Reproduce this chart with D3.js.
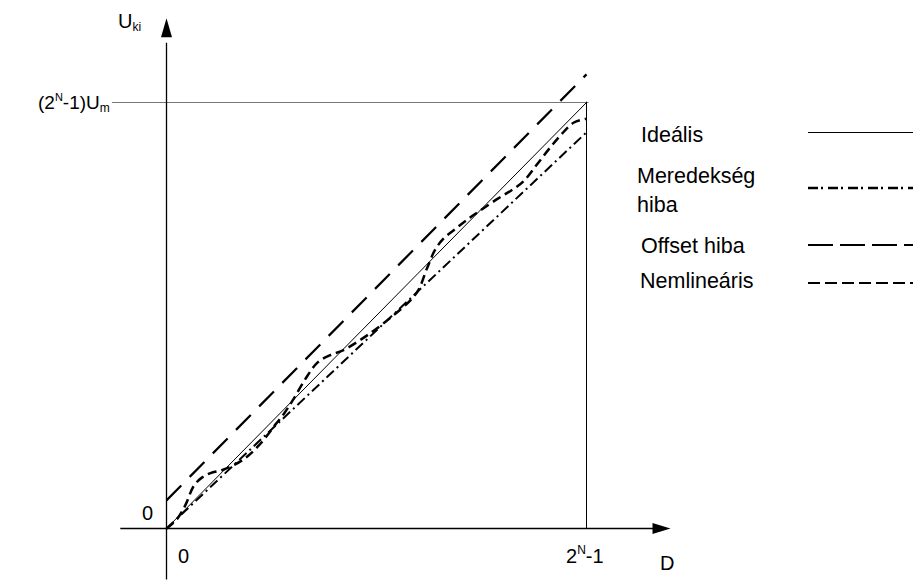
<!DOCTYPE html>
<html>
<head>
<meta charset="utf-8">
<script src="https://cdn.jsdelivr.net/npm/d3@7"></script>
<style>
  html, body { margin: 0; padding: 0; background: #fff; }
  svg { display: block; font-family: "Liberation Sans", Arial, sans-serif; }
</style>
</head>
<body>
<svg id="chart" width="913" height="583"></svg>
<script>
// Digital code D as a fraction of full scale (2^N-1), output U as fraction of (2^N-1)Um
const lineD = [0, 1];
const idealU = [0, 1];
const slopeErrU = [0, 0.93];
const offsetErrU = [0.066, 1.066];

// Nonlinear transfer curve (wavy around the ideal line)
const nonlinD = [0, 0.025, 0.045, 0.065, 0.085, 0.105, 0.135, 0.18, 0.22, 0.26, 0.28, 0.30, 0.33, 0.36, 0.39, 0.42,
                 0.48, 0.54, 0.58, 0.60, 0.62, 0.64, 0.66, 0.69, 0.72, 0.745, 0.79, 0.82, 0.85, 0.88, 0.91, 0.94, 0.97, 1.0];
const nonlinU = [0, 0.022, 0.055, 0.1, 0.12, 0.13, 0.138, 0.16, 0.195, 0.245, 0.27, 0.3, 0.35, 0.39, 0.407, 0.418,
                 0.455, 0.5, 0.535, 0.56, 0.61, 0.655, 0.681, 0.705, 0.728, 0.745, 0.775, 0.793, 0.815, 0.852, 0.89, 0.925, 0.953, 0.962];

const legendLabels = [["Ideális"], ["Meredekség", "hiba"], ["Offset hiba"], ["Nemlineáris"]];

const svg = d3.select("#chart");
const x = d3.scaleLinear().domain([0, 1]).range([166.5, 586.5]);
const y = d3.scaleLinear().domain([0, 1]).range([528.5, 102.5]);

const FS = 20;     // axis labels
const LFS = 21.5;  // legend labels

// Full-scale reference lines
svg.append("line")
  .attr("x1", x(-0.13)).attr("x2", x(1.005))
  .attr("y1", y(1)).attr("y2", y(1))
  .attr("stroke", "#777").attr("stroke-width", 1.2);
svg.append("line")
  .attr("x1", x(1)).attr("x2", x(1))
  .attr("y1", y(1.002)).attr("y2", y(0))
  .attr("stroke", "#000").attr("stroke-width", 1);

// Axes with arrowheads
svg.append("line")
  .attr("x1", x(-0.11)).attr("x2", x(1.16))
  .attr("y1", y(0)).attr("y2", y(0))
  .attr("stroke", "#000").attr("stroke-width", 1.3);
svg.append("line")
  .attr("x1", x(0)).attr("x2", x(0))
  .attr("y1", y(-0.12)).attr("y2", y(1.14))
  .attr("stroke", "#000").attr("stroke-width", 1.3);

const xEnd = x(1.2), y0 = y(0);
svg.append("path")
  .attr("d", `M${xEnd},${y0} L${xEnd - 18},${y0 - 5.5} L${xEnd - 18},${y0 + 5.5} Z`)
  .attr("fill", "#000");
const yEnd = y(1.198), x0 = x(0);
svg.append("path")
  .attr("d", `M${x0},${yEnd} L${x0 - 5.5},${yEnd + 19} L${x0 + 5.5},${yEnd + 19} Z`)
  .attr("fill", "#000");

const line = d3.line().x(d => x(d[0])).y(d => y(d[1]));

// Ideal
svg.append("path")
  .attr("d", line(d3.zip(lineD, idealU)))
  .attr("fill", "none").attr("stroke", "#000").attr("stroke-width", 1);

// Slope (gain) error
svg.append("path")
  .attr("d", line(d3.zip(lineD, slopeErrU)))
  .attr("fill", "none").attr("stroke", "#000").attr("stroke-width", 2)
  .attr("stroke-dasharray", "10 4 2 4");

// Offset error
svg.append("path")
  .attr("d", line(d3.zip(lineD, offsetErrU)))
  .attr("fill", "none").attr("stroke", "#000").attr("stroke-width", 2.2)
  .attr("stroke-dasharray", "21 12");

// Nonlinear
svg.append("path")
  .attr("d", d3.line().x(d => x(d[0])).y(d => y(d[1])).curve(d3.curveCatmullRom.alpha(0.5))(d3.zip(nonlinD, nonlinU)))
  .attr("fill", "none").attr("stroke", "#000").attr("stroke-width", 2.5)
  .attr("stroke-dasharray", "9 5");

// Axis labels
const txt = (px, py, s, fs) => svg.append("text").attr("x", px).attr("y", py).attr("font-size", fs || FS).attr("fill", "#000").text(s);

const uLab = svg.append("text").attr("x", 118).attr("y", 28).attr("font-size", FS);
uLab.append("tspan").text("U");
uLab.append("tspan").attr("font-size", 12).attr("dy", 3).text("ki");

const fsLab = svg.append("text").attr("x", 38).attr("y", 109).attr("font-size", 19);
fsLab.append("tspan").text("(2");
fsLab.append("tspan").attr("font-size", 11).attr("dy", -8).text("N");
fsLab.append("tspan").attr("dy", 8).text("-1)U");
fsLab.append("tspan").attr("font-size", 12).attr("dy", 3).text("m");

txt(142, 520, "0");
txt(178, 563, "0");

const nLab = svg.append("text").attr("x", 566).attr("y", 563).attr("font-size", FS);
nLab.append("tspan").text("2");
nLab.append("tspan").attr("font-size", 12).attr("dy", -9).text("N");
nLab.append("tspan").attr("dy", 9).text("-1");

txt(660, 570, "D");

// Legend
const legRows = [
  { lines: legendLabels[0], tx: 641, ty: [142], ly: 132.5, dash: null, w: 1 },
  { lines: legendLabels[1], tx: 637, ty: [183, 212], ly: 188, dash: "10 3 2 5", w: 2.4 },
  { lines: legendLabels[2], tx: 641, ty: [253], ly: 245, dash: "25 7", w: 2 },
  { lines: legendLabels[3], tx: 640, ty: [288], ly: 283, dash: "12 5", w: 2 }
];
legRows.forEach(r => {
  r.lines.forEach((s, i) => txt(r.tx, r.ty[i], s, LFS));
  const l = svg.append("line")
    .attr("x1", 808).attr("x2", 913)
    .attr("y1", r.ly).attr("y2", r.ly)
    .attr("stroke", "#000").attr("stroke-width", r.w);
  if (r.dash) l.attr("stroke-dasharray", r.dash);
});
</script>
</body>
</html>
